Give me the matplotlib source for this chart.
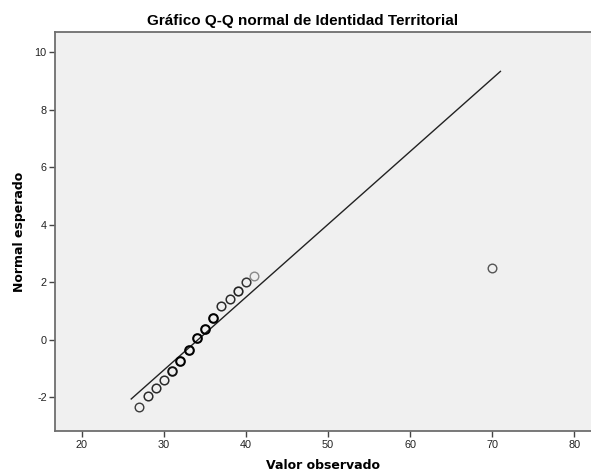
import matplotlib
matplotlib.use("Agg")
import matplotlib.pyplot as plt
import numpy as np

# Data
observed = [27, 28, 29, 30, 31, 32, 33, 34, 35, 36, 37, 38, 39, 40, 41, 70]
expected = [-2.33, -1.95, -1.66, -1.41, -1.10, -0.73, -0.34, 0.06, 0.38, 0.77,
            1.18, 1.41, 1.70, 2.01, 2.23, 2.49]
# darkness / weight of each circle (overlapping ties in original look bolder)
edge_colors = ['#3a3a3a', '#2a2a2a', '#2a2a2a', '#2a2a2a', '#111111', '#000000',
               '#000000', '#000000', '#000000', '#000000', '#2a2a2a', '#2a2a2a',
               '#222222', '#333333', '#8a8a8a', '#555555']
edge_widths = [1.0, 1.1, 1.1, 1.1, 1.4, 1.5, 1.5, 1.5, 1.5, 1.5, 1.1, 1.1,
               1.2, 1.1, 1.0, 1.0]
fit_mean = 34.12
fit_sd = 3.95
line_x = [26, 71]

xticks = [20, 30, 40, 50, 60, 70, 80]
yticks = [-2, 0, 2, 4, 6, 8, 10]

fig = plt.figure(figsize=(5.91, 4.75), dpi=100)
ax = fig.add_axes([55/591, 1-431.3/475, 1-55/591, (431.3-32)/475])
ax.set_facecolor('#f0f0f0')

lx = np.array(line_x, dtype=float)
ax.plot(lx, (lx - fit_mean) / fit_sd, color='#222222', lw=1.0, zorder=2)

for x, y, c, w in zip(observed, expected, edge_colors, edge_widths):
    ax.plot([x], [y], marker='o', ms=6.2, mfc='none', mec=c, mew=w,
            linestyle='none', zorder=3)

ax.set_xlim(16.71, 82.04)
ax.set_ylim(-3.18, 10.706)
ax.set_xticks(xticks)
ax.set_yticks(yticks)
ax.set_xticklabels([str(t) for t in xticks])
ax.set_yticklabels([str(t) for t in yticks])

for s in ['left', 'bottom', 'top']:
    ax.spines[s].set_color('#6e6e6e')
    ax.spines[s].set_linewidth(1.3)
ax.spines['right'].set_visible(False)

ax.tick_params(axis='both', direction='out', length=4, width=1.0,
               color='#444444', labelsize=7.8, labelcolor='#222222', pad=2)
for lab in ax.get_xticklabels() + ax.get_yticklabels():
    lab.set_family('Liberation Sans')

ax.set_xlabel('Valor observado', fontsize=9, fontweight='bold',
              family='DejaVu Sans', labelpad=7)
ax.set_ylabel('Normal esperado', fontsize=9, fontweight='bold',
              family='DejaVu Sans', labelpad=6)
fig.text(303/591, 1-20.5/475, 'Gráfico Q-Q normal de Identidad Territorial',
         ha='center', va='center', fontsize=11, fontweight='bold',
         family='Liberation Sans')

fig.savefig('out.png', dpi=100, facecolor='white')
